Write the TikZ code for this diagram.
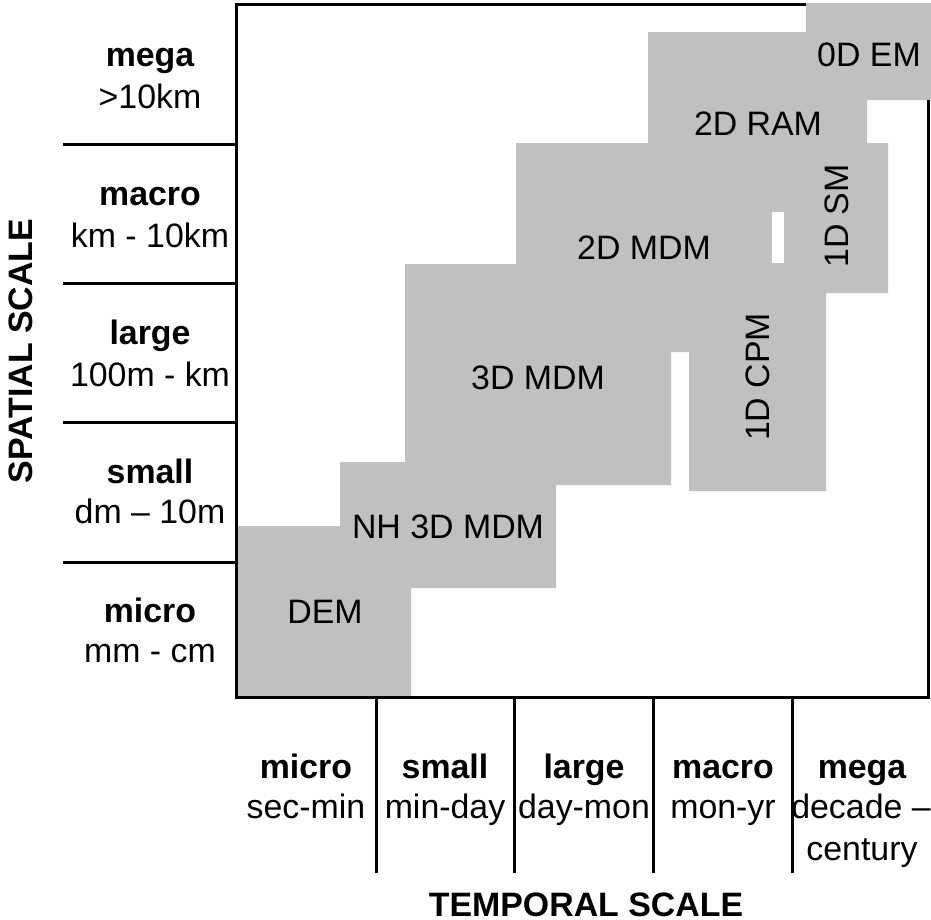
\documentclass[tikz,border=0pt]{standalone}
\usepackage{fontspec}
\setmainfont{Liberation Sans}
\definecolor{modelgray}{RGB}{192,192,192}
\begin{document}
\begin{tikzpicture}[x=1bp,y=-1bp,
  lbl/.style={inner sep=0pt, font=\fontsize{34}{40}\selectfont},
  bl/.style={inner sep=0pt, font=\fontsize{34}{40}\selectfont\bfseries},
  axt/.style={inner sep=0pt, font=\fontsize{34}{40}\selectfont\bfseries},
  rule/.style={line width=3bp, line cap=rect}]
\useasboundingbox (0,0) rectangle (931,920);
% gray model regions
\fill[modelgray]
  (806,3) rectangle (931,100)
  (648,32) rectangle (867,143)
  (516,143) rectangle (888,293)
  (405,264) rectangle (826,352)
  (405,352) rectangle (671,485)
  (689,352) rectangle (826,491)
  (340,462) rectangle (556,588)
  (236,526) rectangle (411,697);
\fill[white] (772,212) rectangle (784,263);
% frame
\draw[line width=3bp] (806,4) -- (236,4) -- (236,697) -- (928,697) -- (928,100);
% spatial dividers
\coordinate (s1a) at (63,144); \coordinate (s1b) at (236,144);
\coordinate (s2a) at (63,283); \coordinate (s2b) at (236,283);
\coordinate (s3a) at (63,422); \coordinate (s3b) at (236,422);
\coordinate (s4a) at (63,562); \coordinate (s4b) at (236,562);
\draw[line width=3bp] (s1a) -- (s1b) (s2a) -- (s2b) (s3a) -- (s3b) (s4a) -- (s4b);
% temporal dividers
\coordinate (t1a) at (376,697); \coordinate (t1b) at (376,873);
\coordinate (t2a) at (514,697); \coordinate (t2b) at (514,873);
\coordinate (t3a) at (653,697); \coordinate (t3b) at (653,873);
\coordinate (t4a) at (792,697); \coordinate (t4b) at (792,873);
\draw[line width=3bp] (t1a) -- (t1b) (t2a) -- (t2b) (t3a) -- (t3b) (t4a) -- (t4b);
% model labels
\node[lbl] (em) at (869,55) {0D EM};
\node[lbl] (ram) at (758,124) {2D RAM};
\node[lbl, rotate=90] (sm) at (837,216) {1D SM};
\node[lbl] (mdm2) at (644,248) {2D MDM};
\node[lbl] (mdm3) at (538,378) {3D MDM};
\node[lbl, rotate=90] (cpm) at (758,377) {1D CPM};
\node[lbl] (nh) at (448,527) {NH 3D MDM};
\node[lbl] (dem) at (325,612) {DEM};
% spatial scale labels
\node[bl, anchor=base] (sp1) at (150,66) {mega};
\node[lbl, anchor=base] (sp1r) at (150,108) {>10km};
\node[bl, anchor=base] (sp2) at (150,205) {macro};
\node[lbl, anchor=base] (sp2r) at (150,247) {km - 10km};
\node[bl, anchor=base] (sp3) at (150,344) {large};
\node[lbl, anchor=base] (sp3r) at (150,386) {100m - km};
\node[bl, anchor=base] (sp4) at (150,483) {small};
\node[lbl, anchor=base] (sp4r) at (150,523) {dm – 10m};
\node[bl, anchor=base] (sp5) at (150,622) {micro};
\node[lbl, anchor=base] (sp5r) at (150,662) {mm - cm};
% temporal scale labels
\node[bl, anchor=base] (tp1) at (306,778) {micro};
\node[lbl, anchor=base] (tp1r) at (306,818) {sec-min};
\node[bl, anchor=base] (tp2) at (445,778) {small};
\node[lbl, anchor=base] (tp2r) at (445,818) {min-day};
\node[bl, anchor=base] (tp3) at (584,778) {large};
\node[lbl, anchor=base] (tp3r) at (584,818) {day-mon};
\node[bl, anchor=base] (tp4) at (723,778) {macro};
\node[lbl, anchor=base] (tp4r) at (723,818) {mon-yr};
\node[bl, anchor=base] (tp5) at (862,778) {mega};
\node[lbl, anchor=base] (tp5r) at (861,818) {decade –};
\node[lbl, anchor=base] (tp5s) at (862,860) {century};
% axis titles
\node[axt, anchor=base] (tax) at (586,916) {TEMPORAL SCALE};
\node[axt, anchor=base, rotate=90] (sax) at (32,351) {SPATIAL SCALE};
\end{tikzpicture}
\end{document}
